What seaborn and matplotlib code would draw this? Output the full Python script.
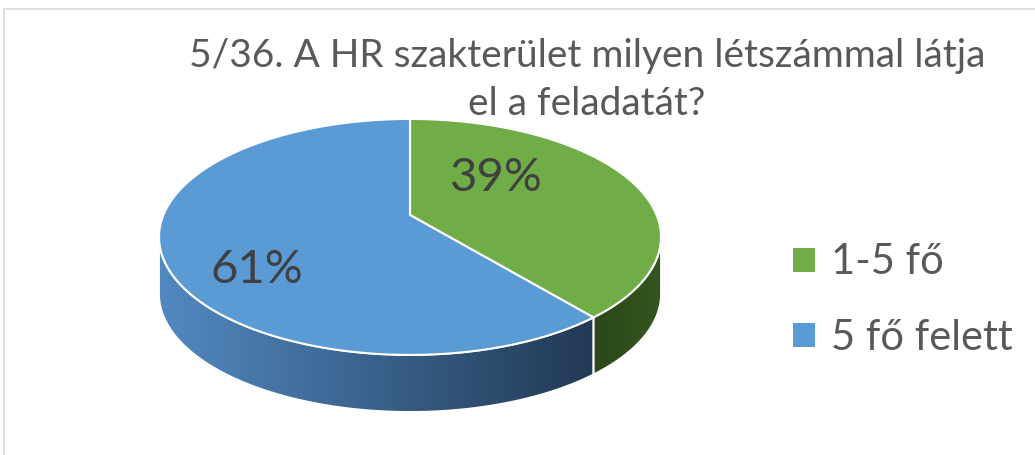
import numpy as np
import matplotlib
matplotlib.use("Agg")
import matplotlib.pyplot as plt
import seaborn as sns
from matplotlib.colors import LinearSegmentedColormap
from matplotlib.patches import Patch, Polygon, Rectangle

sns.set_theme(style="white")
plt.rcParams["font.family"] = ["Lato", "DejaVu Sans"]

title_lines = ["5/36. A HR szakterület milyen létszámmal látja", "el a feladatát?"]
categories = ["1-5 fő", "5 fő felett"]
shares = [39, 61]

top_colors = ["#70ad47", "#5b9bd5"]
side_colors = [("#2c4719", "#34561f"), ("#5289c1", "#1a2d44")]

# pie geometry in pixel space (perspective view of a tilted disc)
CX, CY = 410, 215
RX, RY, K = 246.6, 113.9, 0.186
DEPTH = 57
label_radius = [0.507, 0.72]
label_turn = [-23.0, -18.0]


def project(alpha, r=1.0):
    a = np.radians(alpha)
    u, v = r * np.sin(a), r * np.cos(a)
    s = 1 + K * v
    return CX + RX * u / s, CY - RY * v / s


fig = plt.figure(figsize=(10.35, 4.55), dpi=100)
ax = fig.add_axes([0, 0, 1, 1])
ax.set_xlim(0, 1035)
ax.set_ylim(455, 0)
ax.axis("off")

fig.patches.append(Rectangle((4 / 1035, -0.1), 1.2, 1 - 9 / 455 + 0.1,
                             transform=fig.transFigure, fill=False,
                             edgecolor="#d9d9d9", lw=1.2))

fractions = np.array(shares) / sum(shares)
bounds = np.concatenate([[0], np.cumsum(fractions) * 360])

a_right = np.degrees(np.arctan2(np.sqrt(1 - K * K), -K))
a_left = 360 - a_right
x_min, _ = project(a_left)
x_max, _ = project(a_right)

# visible sides
for i in range(len(shares)):
    lo, hi = max(bounds[i], a_right), min(bounds[i + 1], a_left)
    if hi <= lo:
        continue
    al = np.linspace(lo, hi, 200)
    xs, ys = project(al)
    pts = np.column_stack([np.concatenate([xs, xs[::-1]]),
                           np.concatenate([ys, ys[::-1] + DEPTH])])
    side = Polygon(pts, closed=True, facecolor="none", edgecolor="white", lw=1.3, zorder=3)
    ax.add_patch(side)
    cmap = LinearSegmentedColormap.from_list(f"side{i}", side_colors[i])
    grad = cmap(np.linspace(0, 1, 400))[None, :, :3]
    xa, xb = (x_min, x_max) if i == 1 else (xs.min(), xs.max())
    im = ax.imshow(grad, extent=[xa, xb, ys.max() + DEPTH + 5, ys.min() - 5],
                   aspect="auto", zorder=2, interpolation="bilinear")
    im.set_clip_path(side)

# top faces
for i in range(len(shares)):
    al = np.linspace(bounds[i], bounds[i + 1], 300)
    xs, ys = project(al)
    pts = np.column_stack([np.concatenate([[CX], xs]), np.concatenate([[CY], ys])])
    ax.add_patch(Polygon(pts, closed=True, facecolor=top_colors[i],
                         edgecolor="white", lw=1.5, zorder=4))

# percentage labels
for i, share in enumerate(shares):
    mid = (bounds[i] + bounds[i + 1]) / 2 + label_turn[i]
    lx, ly = project(mid, label_radius[i])
    ax.text(lx, ly, f"{share}%", ha="center", va="center", fontsize=34,
            color="#404040", zorder=5)

for line, base in zip(title_lines, [67, 115]):
    fig.text(587 / 1035, 1 - base / 455, line, ha="center", va="baseline",
             fontsize=28, color="#595959")

handles = [Patch(facecolor=c, edgecolor="none") for c in top_colors]
ax.legend(handles, categories, loc="center left", bbox_to_anchor=(793 / 1035, 1 - 300 / 455),
          frameon=False, fontsize=30, labelcolor="#595959", handlelength=0.52,
          handleheight=0.52, handletextpad=0.4, labelspacing=0.89,
          borderpad=0, borderaxespad=0)

fig.savefig("out.png", dpi=100)
